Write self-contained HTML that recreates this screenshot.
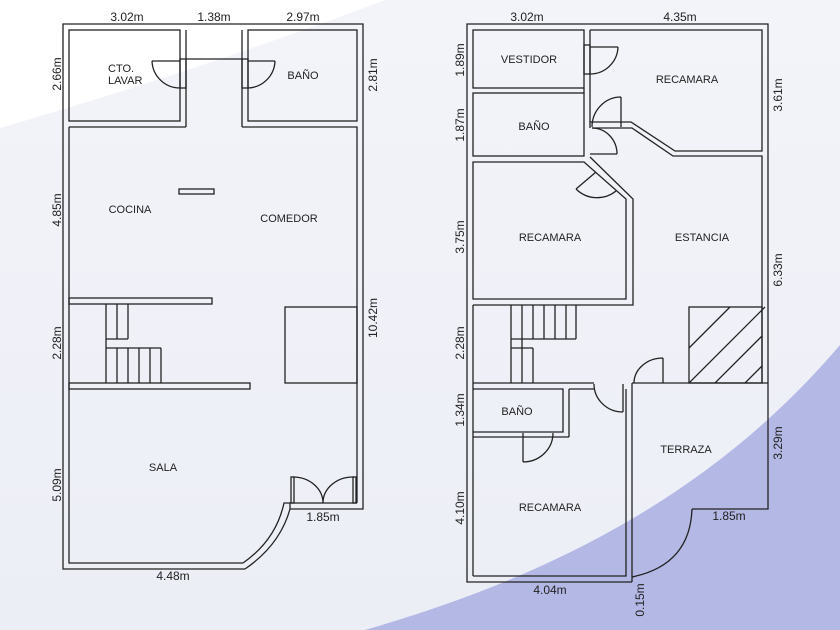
<!DOCTYPE html>
<html><head><meta charset="utf-8"><style>
html,body{margin:0;padding:0;width:840px;height:630px;overflow:hidden;background:#eef0f7}
svg{display:block}
text{font-family:"Liberation Sans",sans-serif;fill:#222}
.l{font-size:11px}
.d{font-size:12px}
</style></head><body>
<svg width="840" height="630" viewBox="0 0 840 630" xmlns="http://www.w3.org/2000/svg">
<defs>
<linearGradient id="bg" x1="0" y1="0" x2="0" y2="1"><stop offset="0" stop-color="#f3f4f9"/><stop offset="1" stop-color="#eceef6"/></linearGradient>
</defs>
<rect width="840" height="630" fill="url(#bg)"/>
<path d="M0,0 L385,0 Q200,70 0,128 Z" fill="#ffffff"/>
<path d="M365,630 C520,585 700,510 840,345 L840,630 Z" fill="#b3b8e5"/>
<g fill="none" stroke="#222" stroke-width="1.3">
<!-- LEFT PLAN -->
<path d="M245,569 L63,569 L63,24 L363,24 L363,509 L290,509"/>
<path d="M245,569 Q280,545 290,509"/>
<path d="M243,563 Q276,540 284,503 L357,503"/>
<rect x="69" y="30" width="111" height="91"/>
<path d="M69,127 L69,563 L243,563"/>
<path d="M186,127 L186,30 M242,127 L242,30"/>
<path d="M69,127 L186,127 M242,127 L357,127 L357,503"/>
<rect x="248" y="30" width="109" height="91"/>
<path d="M186,59 L242,59"/>
<rect x="180" y="59" width="6" height="29"/>
<rect x="242" y="59" width="6" height="29"/>
<path d="M152,61 L180,61 M152,61 A28,28 0 0 0 180,88"/>
<path d="M248,61 L275,61 M275,61 A28,28 0 0 1 248,88"/>
<rect x="179" y="189" width="35" height="5"/>
<rect x="69" y="298" width="143" height="6"/>
<path d="M106,304 L106,383 M117,304 L117,339 M128,304 L128,339 M106,339 L128,339"/>
<path d="M106,348 L161,348 M117,348 L117,383 M128,348 L128,383 M139,348 L139,383 M150,348 L150,383 M161,348 L161,383"/>
<rect x="69" y="383" width="181" height="6"/>
<rect x="285" y="307" width="72" height="76"/>
<path d="M290,503 L290,509"/>
<rect x="291" y="477" width="3" height="26"/>
<rect x="353" y="477" width="3" height="26"/>
<path d="M293,477 A30,26 0 0 1 323,503 M354,477 A30,26 0 0 0 323,503"/>
<!-- RIGHT PLAN -->
<path d="M632,582 L467,582 L467,24 L768,24 L768,509 L692,509"/>
<path d="M692,509 Q690,565 632,577"/>
<rect x="473" y="30" width="111" height="58"/>
<rect x="473" y="93" width="111" height="63"/>
<path d="M590,30 L590,128 M584,88 L584,93"/>
<path d="M590,30 L762,30 L762,151 L675,151 L631,122 L590,122"/>
<path d="M592,128 L632,128 L673,156 L762,156 L762,383"/>
<path d="M473,162 L584,162 L626,199 L626,299 L473,299 Z"/>
<path d="M590,157 L633,199 L633,305 L473,305"/>
<rect x="584" y="45" width="6" height="29"/>
<path d="M590,47 L618,47 M618,47 A28,28 0 0 1 590,74"/>
<path d="M621,97 L621,127 M621,97 A29,30 0 0 0 592,127"/>
<path d="M590,154 L617,154 M592,128 A25,26 0 0 1 617,154"/>
<path d="M596,172 L576,189 M576,189 A30,30 0 0 0 616,191"/>
<path d="M473,305 L473,576 M511,305 L511,383 M522,305 L522,383 M533,305 L533,339 M544,305 L544,339 M555,305 L555,339 M566,305 L566,339 M576,305 L576,339 M511,339 L576,339 M511,348 L533,348 M533,348 L533,383"/>
<rect x="689" y="307" width="73" height="76"/>
<path d="M689,348 L730,307 M689,383 L765,307 M715,383 L762,336 M745,383 L762,366" />
<path d="M473,383 L594,383 M632,383 L768,383 M473,389 L563,389 L563,432 L473,432"/>
<path d="M569,389 L569,437 M569,389 L594,389"/>
<path d="M473,437 L553,437 M569,437 L553,437"/>
<path d="M626,389 L626,576 L473,576 M632,383 L632,582"/>
<path d="M523,433 L523,462 M553,433 A30,29 0 0 1 523,462"/>
<path d="M623,384 L623,412 M594,384 A29,28 0 0 0 623,412"/>
<path d="M663,358 L663,383 M663,358 A29,25 0 0 0 634,383"/>
</g>
<g class="l" text-anchor="middle">
<text x="108" y="72" text-anchor="start">CTO.</text>
<text x="108" y="84" text-anchor="start">LAVAR</text>
<text x="303" y="79">BAÑO</text>
<text x="130" y="213">COCINA</text>
<text x="289" y="222">COMEDOR</text>
<text x="163" y="471">SALA</text>
<text x="529" y="63">VESTIDOR</text>
<text x="687" y="83">RECAMARA</text>
<text x="534" y="130">BAÑO</text>
<text x="550" y="241">RECAMARA</text>
<text x="702" y="241">ESTANCIA</text>
<text x="517" y="415">BAÑO</text>
<text x="686" y="453">TERRAZA</text>
<text x="550" y="511">RECAMARA</text>
</g>
<g class="d" text-anchor="middle">
<text x="127" y="21">3.02m</text>
<text x="214" y="21">1.38m</text>
<text x="303" y="21">2.97m</text>
<text x="173" y="580">4.48m</text>
<text x="323" y="521">1.85m</text>
<text x="527" y="21">3.02m</text>
<text x="680" y="21">4.35m</text>
<text x="550" y="594">4.04m</text>
<text x="729" y="520">1.85m</text>
<text transform="translate(61,74) rotate(-90)">2.66m</text>
<text transform="translate(61,210) rotate(-90)">4.85m</text>
<text transform="translate(61,343) rotate(-90)">2.28m</text>
<text transform="translate(61,485) rotate(-90)">5.09m</text>
<text transform="translate(377,75) rotate(-90)">2.81m</text>
<text transform="translate(377,318) rotate(-90)">10.42m</text>
<text transform="translate(464,60) rotate(-90)">1.89m</text>
<text transform="translate(464,125) rotate(-90)">1.87m</text>
<text transform="translate(464,237) rotate(-90)">3.75m</text>
<text transform="translate(464,343) rotate(-90)">2.28m</text>
<text transform="translate(464,410) rotate(-90)">1.34m</text>
<text transform="translate(464,508) rotate(-90)">4.10m</text>
<text transform="translate(782,95) rotate(-90)">3.61m</text>
<text transform="translate(782,270) rotate(-90)">6.33m</text>
<text transform="translate(782,443) rotate(-90)">3.29m</text>
<text transform="translate(644,600) rotate(-90)">0.15m</text>
</g>
</svg>
</body></html>
